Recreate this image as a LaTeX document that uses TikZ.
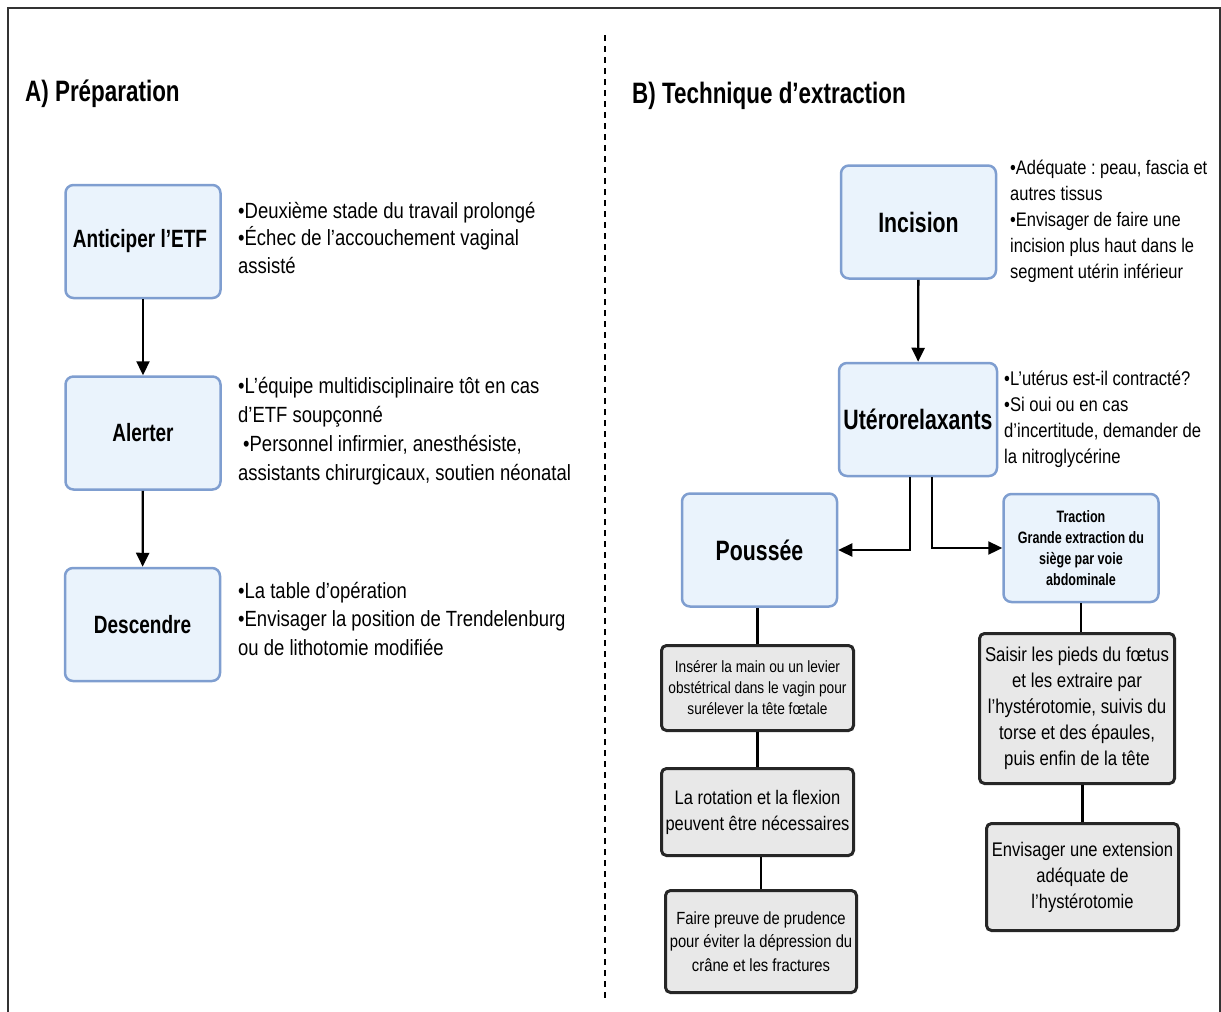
\documentclass[tikz,border=0pt]{standalone}
\usepackage{fontspec}
\setmainfont{Liberation Sans}[FakeStretch=0.84]
\newfontfamily\condfont{Liberation Sans}[FakeStretch=0.76]
\usetikzlibrary{arrows.meta}
\frenchspacing

\definecolor{boxblue}{HTML}{EAF3FC}
\definecolor{edgeblue}{HTML}{7F9ED0}
\definecolor{boxgrey}{HTML}{E8E8E8}

\tikzset{
  bluebox/.style={draw=edgeblue, line width=2.5pt, fill=boxblue, rounded corners=8pt,
    minimum width=155pt, minimum height=113pt, align=center, inner sep=2pt,
    font=\condfont\fontsize{25}{29}\selectfont\bfseries},
  greybox/.style={draw=black!85, line width=3pt, fill=boxgrey, rounded corners=5pt,
    align=center, inner sep=1pt},
  note/.style={anchor=base west, align=left, inner sep=0pt},
  title/.style={anchor=base west, inner sep=0pt, font=\condfont\fontsize{29.5}{33}\selectfont\bfseries},
  flow/.style={line width=2.3pt, -{Triangle[length=14pt,width=13pt]}},
  link/.style={line width=2.5pt},
}

\begin{document}
\begin{tikzpicture}[x=1pt, y=-1pt]
  \useasboundingbox (0,0) rectangle (1221,1012);

  % --- cadre ---
  \draw[line width=2pt, black!80] (8,1012) -- (8,8) -- (1220,8) -- (1220,1012);
  \draw[line width=2pt, dash pattern=on 6pt off 5pt] (605,35) -- (605,1000);

  % --- titres ---
  \node[title] (ttlA) at (25,101) {A) Préparation};
  \node[title] (ttlB) at (632,103) {B) Technique d’extraction};

  % --- A) colonne ---
  \node[bluebox] (anticiper) at (143,241.5) {\hspace*{-6pt}Anticiper l’ETF};
  \node[bluebox] (alerter)   at (143,433)   {Alerter};
  \node[bluebox] (descendre) at (142.5,624.5) {Descendre};

  % notes (ancrées sur la dernière ligne)
  \node[note, font=\fontsize{22}{27.5}\selectfont] (nAnt) at (238,273)
    {•Deuxième stade du travail prolongé\\•Échec de l’accouchement vaginal\\assisté};
  \node[note, font=\fontsize{22}{28.7}\selectfont] (nAle) at (238,480)
    {•L’équipe multidisciplinaire tôt en cas\\d’ETF soupçonné\\\hspace*{5pt}•Personnel infirmier, anesthésiste,\\assistants chirurgicaux, soutien néonatal};
  \node[note, font=\fontsize{22}{28.5}\selectfont] (nDes) at (238,655)
    {•La table d’opération\\•Envisager la position de Trendelenburg\\ou de lithotomie modifiée};

  \draw[flow] (anticiper) -- (alerter);
  \draw[flow] (alerter) -- (descendre);

  % --- B) colonne ---
  \node[bluebox] (incision) at (918.5,222) {\fontsize{28}{32}\selectfont Incision};
  \node[bluebox, minimum width=158pt] (utero) at (918,419.5) {\fontsize{28}{32}\selectfont Utérorelaxants};
  \node[bluebox] (poussee) at (759.5,550) {\fontsize{28}{32}\selectfont Poussée};
  \node[bluebox, minimum height=108pt, font=\condfont\fontsize{16.5}{21}\selectfont\bfseries] (traction) at (1081,548)
    {Traction\\Grande extraction du\\siège par voie\\abdominale};

  \node[note, font=\fontsize{19.6}{26}\selectfont] (nInc) at (1010,278)
    {•Adéquate : peau, fascia et\\autres tissus\\•Envisager de faire une\\incision plus haut dans le\\segment utérin inférieur};
  \node[note, font=\fontsize{19.8}{26}\selectfont] (nUte) at (1004,463)
    {•L’utérus est-il contracté?\\•Si oui ou en cas\\d’incertitude, demander de\\la nitroglycérine};

  \draw[flow] (incision) -- (utero);
  \draw[flow] ([xshift=-8pt]utero.south) |- (poussee.east);
  \draw[flow] ([xshift=14pt]utero.south) |- (traction.west);

  % --- Poussée : étapes ---
  \node[greybox, minimum width=192pt, minimum height=85pt, font=\fontsize{16.3}{21}\selectfont] (g1) at (757.5,688)
    {Insérer la main ou un levier\\obstétrical dans le vagin pour\\surélever la tête fœtale};
  \node[greybox, minimum width=192pt, minimum height=87pt, font=\fontsize{19.6}{26}\selectfont] (g2) at (757.5,812)
    {La rotation et la flexion\\peuvent être nécessaires};
  \node[greybox, minimum width=191pt, minimum height=102pt, font=\fontsize{17.6}{23.5}\selectfont] (g3) at (761,941.5)
    {Faire preuve de prudence\\pour éviter la dépression du\\crâne et les fractures};

  \draw[link] (g1.north) -- (g1.north |- poussee.south);
  \draw[link] (g2.north) -- (g2.north |- g1.south);
  \draw[link] (g3.north) -- (g3.north |- g2.south);

  % --- Traction : étapes ---
  \node[greybox, minimum width=195pt, minimum height=150pt, font=\fontsize{20}{26}\selectfont] (r1) at (1077,708.5)
    {Saisir les pieds du fœtus\\et les extraire par\\l’hystérotomie, suivis du\\torse et des épaules,\\puis enfin de la tête};
  \node[greybox, minimum width=192pt, minimum height=107pt, font=\fontsize{19.7}{26}\selectfont] (r2) at (1082.5,877)
    {Envisager une extension\\adéquate de\\l’hystérotomie};

  \draw[link] (traction.south) -- (traction.south |- r1.north);
  \draw[link] (r2.north) -- (r2.north |- r1.south);
\end{tikzpicture}
\end{document}
